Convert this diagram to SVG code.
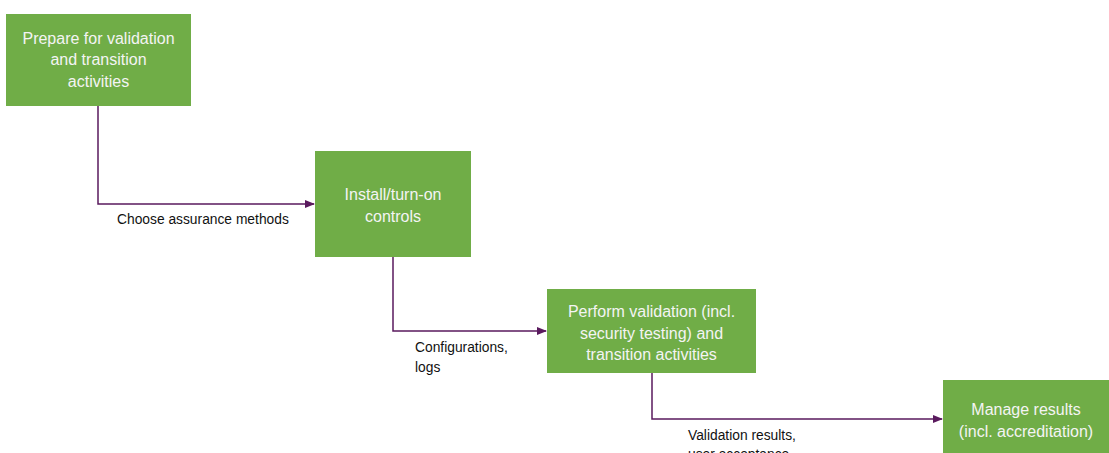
<svg xmlns="http://www.w3.org/2000/svg" width="1109" height="453" viewBox="0 0 1109 453">
<style>
.box{fill:#70AD47;}
.nt{font-family:"Liberation Sans",Arial,sans-serif;font-size:16px;fill:#F4F4F4;text-anchor:middle;}
.lt{font-family:"Liberation Sans",Arial,sans-serif;font-size:13.8px;fill:#111;}
.con{fill:none;stroke:#5A1A5E;stroke-width:1.5;}
</style>
<defs>
<marker id="ah" markerWidth="10" markerHeight="8" refX="9" refY="4" orient="auto" markerUnits="userSpaceOnUse">
<path d="M0,0 L10,4 L0,8 Z" fill="#5A1A5E"/>
</marker>
</defs>
<rect width="1109" height="453" fill="#fff"/>
<g id="connectors">
<path class="con" d="M98,106 V204 H314" marker-end="url(#ah)"/>
<path class="con" d="M393,257 V331 H546" marker-end="url(#ah)"/>
<path class="con" d="M652,373 V419 H942" marker-end="url(#ah)"/>
<text class="lt" x="117" y="223.5">Choose assurance methods</text>
<text class="lt" x="415" y="352">Configurations,</text>
<text class="lt" x="415" y="371.5">logs</text>
<text class="lt" x="688" y="440">Validation results,</text>
<text class="lt" x="688" y="459">user acceptance</text>
</g>
<g id="n1">
<rect class="box" x="6" y="14" width="185" height="92"/>
<text class="nt" x="98.5" y="43.5">Prepare for validation</text>
<text class="nt" x="98.5" y="65">and transition</text>
<text class="nt" x="98.5" y="86.5">activities</text>
</g>
<g id="n2">
<rect class="box" x="315" y="151" width="156" height="106"/>
<text class="nt" x="393" y="199.5">Install/turn-on</text>
<text class="nt" x="393" y="221.5">controls</text>
</g>
<g id="n3">
<rect class="box" x="547" y="289" width="209" height="84"/>
<text class="nt" x="651.5" y="316.5">Perform validation (incl.</text>
<text class="nt" x="651.5" y="338.5">security testing) and</text>
<text class="nt" x="651.5" y="359.5">transition activities</text>
</g>
<g id="n4">
<rect class="box" x="943" y="380" width="166" height="80"/>
<text class="nt" x="1026" y="414.5">Manage results</text>
<text class="nt" x="1026" y="436.5">(incl. accreditation)</text>
</g>
</svg>
